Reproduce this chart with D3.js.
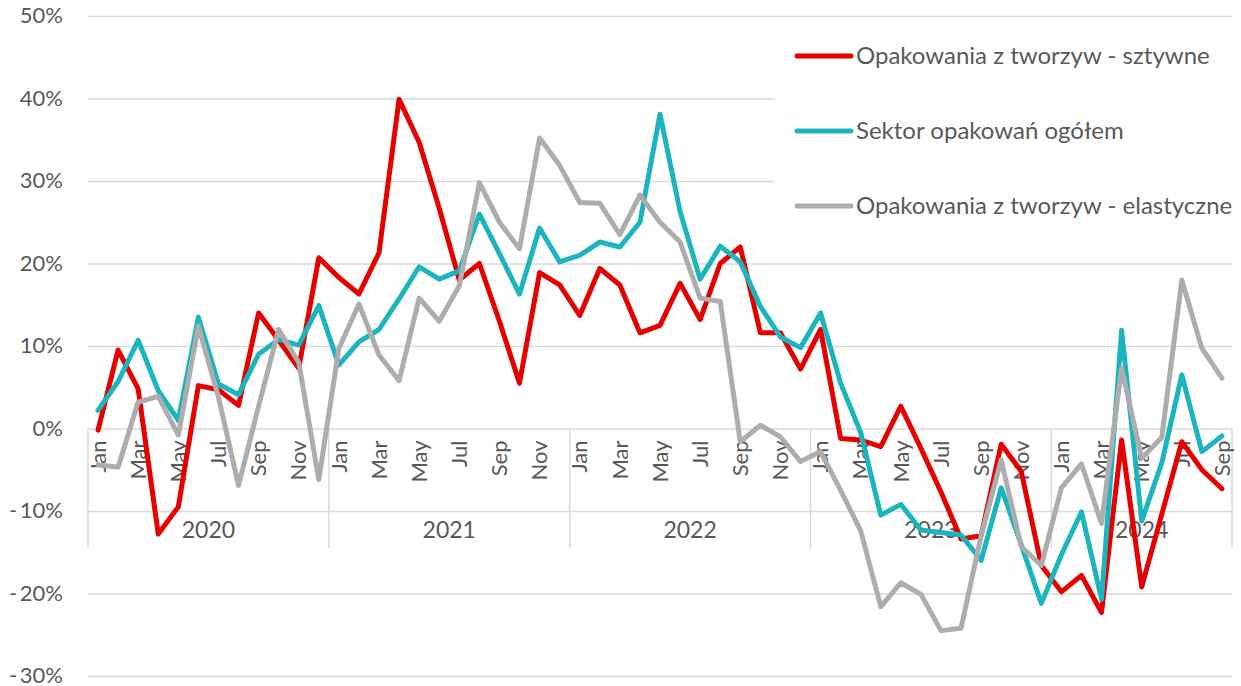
<!DOCTYPE html>
<html><head><meta charset="utf-8">
<script src="https://cdn.jsdelivr.net/npm/d3@7"></script>
<style>
body{margin:0;background:#fff}
text{font-family:Lato,"Open Sans",sans-serif;fill:#595959}
</style>
</head><body><svg id="c" width="1241" height="686"></svg>
<script>
const years = ["2020","2021","2022","2023","2024"];
const monthsPerYear = [12,12,12,12,9];
const monthNames = ["Jan","Feb","Mar","Apr","May","Jun","Jul","Aug","Sep","Oct","Nov","Dec"];
const seriesNames = ["Opakowania z tworzyw - sztywne","Sektor opakowań ogółem","Opakowania z tworzyw - elastyczne"];
const seriesColors = ["#E60000","#1CB5BF","#ADADAD"];
const yTicks = [-0.3,-0.2,-0.1,0,0.1,0.2,0.3,0.4,0.5];

const sztywne = [
  -0.2, 9.5, 4.8, -12.8, -9.5, 5.2, 4.7, 2.8, 14.0, 10.7, 7.3, 20.7,
  18.3, 16.3, 21.3, 39.9, 34.7, 26.7, 18.0, 20.0, 13.0, 5.5, 18.9, 17.4,
  13.7, 19.4, 17.4, 11.6, 12.5, 17.6, 13.2, 20.0, 22.0, 11.6, 11.6, 7.2,
  12.0, -1.2, -1.4, -2.2, 2.7, -2.4, -7.7, -13.4, -13.0, -1.9, -5.2, -16.6,
  -19.8, -17.8, -22.3, -1.4, -19.2, -10.4, -1.6, -5.0, -7.3
];
const ogolem = [
  2.2, 5.7, 10.7, 4.6, 1.0, 13.5, 5.4, 4.1, 9.0, 10.8, 10.1, 14.9,
  7.7, 10.5, 12.0, 15.7, 19.6, 18.1, 19.1, 26.0, 21.2, 16.3, 24.3, 20.2,
  21.0, 22.6, 22.0, 25.0, 38.1, 26.3, 18.1, 22.1, 20.2, 14.8, 11.1, 9.8,
  14.0, 5.5, -0.5, -10.5, -9.2, -12.3, -12.6, -12.9, -16.0, -7.2, -14.1, -21.2,
  -15.3, -10.1, -20.7, 11.9, -11.2, -4.2, 6.5, -2.8, -0.9
];
const elastyczne = [
  -4.4, -4.7, 3.2, 3.9, -0.8, 12.4, 3.8, -6.9, 2.7, 12.0, 8.0, -6.2,
  9.7, 15.1, 8.9, 5.8, 15.8, 13.0, 17.3, 29.8, 25.0, 21.8, 35.2, 31.9,
  27.4, 27.3, 23.5, 28.3, 25.0, 22.6, 15.8, 15.4, -1.6, 0.4, -1.0, -4.0,
  -2.8, -7.5, -12.4, -21.6, -18.7, -20.1, -24.5, -24.2, -13.0, -3.8, -14.3, -16.6,
  -7.2, -4.3, -11.5, 7.3, -3.6, -1.1, 18.0, 9.7, 6.1
];
const seriesValues = [sztywne, ogolem, elastyczne];

// build categories
const categories = [];
years.forEach((yr, yi) => {
  for (let m = 0; m < monthsPerYear[yi]; m++) categories.push({year: yr, yi, m, label: monthNames[m]});
});

const svg = d3.select("#c");
const plotLeft = 88, plotRight = 1232, plotTop = 16, plotBottom = 676;
const x = d3.scaleBand().domain(d3.range(categories.length)).range([plotLeft, plotRight]);
const y = d3.scaleLinear().domain([-0.3, 0.5]).range([plotBottom, plotTop]);
const cx = i => x(i) + x.bandwidth() / 2;
const grid = "#D9D9D9";

// gridlines + y labels
const pct = v => {
  const s = Math.round(Math.abs(v) * 100) + "%";
  return v < 0 ? "-\u2009" + s : s;
};
const yAxis = d3.axisLeft(y).tickValues(yTicks).tickSize(-(plotRight - plotLeft)).tickPadding(25).tickFormat(pct);
const yg = svg.append("g").attr("transform", `translate(${plotLeft},0)`).call(yAxis);
yg.select(".domain").remove();
yg.selectAll(".tick line").attr("stroke", grid).attr("stroke-width", 1.5);
yg.selectAll(".tick text").style("font-size", "22px").attr("fill", "#595959").attr("dy", "0.3em");

// category axis (multi-level)
const y0 = y(0);
const ag = svg.append("g");
const yearStarts = [];
let acc = 0;
monthsPerYear.forEach(n => { yearStarts.push(acc); acc += n; });
const sepX = yearStarts.map(i => x(i)).concat([plotRight]);
ag.selectAll("line.sep").data(sepX).enter().append("line")
  .attr("x1", d => d).attr("x2", d => d).attr("y1", y0).attr("y2", 548)
  .attr("stroke", grid).attr("stroke-width", 1.5);
ag.selectAll("text.m").data(categories.map((c, i) => ({c, i})).filter(d => d.c.m % 2 === 0)).enter().append("text")
  .attr("transform", d => `translate(${cx(d.i)},${y0 + 12}) rotate(-90)`)
  .attr("text-anchor", "end").attr("dy", "0.35em")
  .style("font-size", "22px").text(d => d.c.label);
ag.selectAll("text.y").data(years).enter().append("text")
  .attr("x", (d, i) => (sepX[i] + sepX[i + 1]) / 2).attr("y", 538)
  .attr("text-anchor", "middle").style("font-size", "23px").text(d => d);

// legend background
svg.append("rect").attr("x", 775).attr("y", 26).attr("width", 466).attr("height", 220).attr("fill", "#fff");

// lines
const line = d3.line().x((d, i) => cx(i)).y(d => y(d / 100));
svg.append("g").selectAll("path").data(seriesValues).enter().append("path")
  .attr("d", line).attr("fill", "none")
  .attr("stroke", (d, i) => seriesColors[i]).attr("stroke-width", 5)
  .attr("stroke-linejoin", "round").attr("stroke-linecap", "round");

// legend
const lg = svg.append("g");
const legY = [56, 131, 206];
seriesNames.forEach((n, i) => {
  lg.append("line").attr("x1", 797).attr("x2", 851).attr("y1", legY[i]).attr("y2", legY[i])
    .attr("stroke", seriesColors[i]).attr("stroke-width", 5).attr("stroke-linecap", "round");
  lg.append("text").attr("x", 856).attr("y", legY[i]).attr("dy", "0.35em")
    .style("font-size", "24px").text(n);
});
</script>
</body></html>
